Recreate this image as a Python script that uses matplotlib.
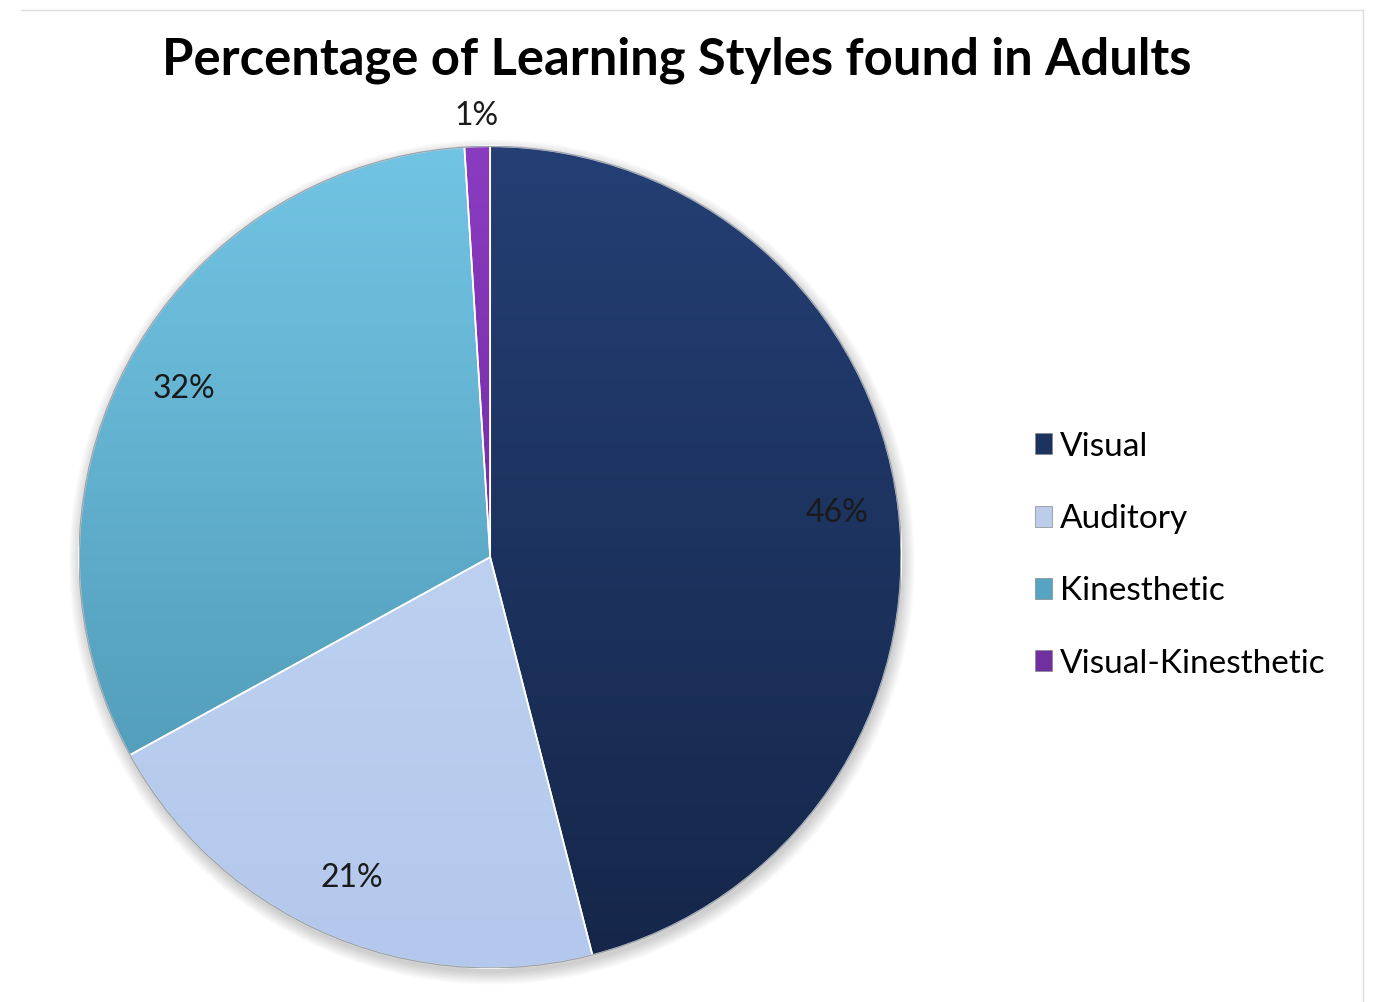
import numpy as np
import matplotlib.pyplot as plt
from matplotlib.colors import LinearSegmentedColormap
from matplotlib.patches import Circle

# Learning style shares (percent)
styles = ['Visual', 'Auditory', 'Kinesthetic', 'Visual-Kinesthetic']
shares = [46, 21, 32, 1]

# top / bottom shade of each slice
top_colors = ['#243f74', '#c6d8f4', '#72c4e4', '#8a3cc0']
bottom_colors = ['#152649', '#b3c8ec', '#4892ad', '#5e1f8c']
legend_colors = ['#1c325f', '#bccde9', '#55a4c2', '#7030a0']

fig = plt.figure(figsize=(13.75, 10.02), dpi=100)
fig.patch.set_facecolor('white')

ax = fig.add_axes([0.0575, 0.034, 0.598, 0.820])

# soft shadow under the pie
for k in range(8):
    ax.add_patch(Circle((0.004, -0.012), 1.0 + 0.004 * k, color='black',
                        alpha=0.025, lw=0, zorder=0, clip_on=False))

wedges, _ = ax.pie(shares, startangle=90, counterclock=False, radius=1,
                   colors=legend_colors,
                   wedgeprops=dict(edgecolor='white', linewidth=1.2))
ax.set_xlim(-1, 1)
ax.set_ylim(-1, 1)
ax.set_aspect('equal')
ax.axis('off')

# vertical gradient fill clipped to each slice
yy = np.linspace(0, 1, 256).reshape(-1, 1)
for w, c_top, c_bot in zip(wedges, top_colors, bottom_colors):
    cmap = LinearSegmentedColormap.from_list('g', [c_bot, c_top])
    im = ax.imshow(yy, cmap=cmap, extent=(-1, 1, -1, 1), origin='lower',
                   aspect='auto', zorder=1.5, interpolation='bicubic')
    im.set_clip_path(w)
    w.set_zorder(2)
    w.set_facecolor('none')
ax.set_xlim(-1, 1)
ax.set_ylim(-1, 1)

ax.add_patch(Circle((0, 0), 1.0, fill=False, edgecolor='#3d4a5c',
                    lw=1.0, alpha=0.5, zorder=3))

# percentage labels placed along each slice's mid angle
total = sum(shares)
start = 90.0
for s, w in zip(shares, wedges):
    mid = start - s / total * 360 / 2
    start -= s / total * 360
    r = 1.075 if s < 3 else 0.85
    a = np.deg2rad(mid)
    ax.text(r * np.cos(a), r * np.sin(a), f'{s}%', ha='center', va='center',
            fontsize=23, family='Lato', color='#1a1a1a', zorder=5,
            clip_on=False)

fig.text(0.492, 0.940, 'Percentage of Learning Styles found in Adults',
         ha='center', va='center', fontsize=36.5, fontweight='bold',
         family='Lato', color='black')

# legend
handles = [plt.Rectangle((0, 0), 1, 1, facecolor=c, edgecolor='#888888', lw=0.5)
           for c in legend_colors]
fig.legend(handles, styles, loc='center left', bbox_to_anchor=(0.731, 0.446),
           frameon=False, prop=dict(family='Lato', size=24),
           handlelength=0.5, handleheight=0.6, handletextpad=0.25,
           labelspacing=1.27)

# thin border around the chart area
fig.add_artist(plt.Line2D([0.015, 0.991], [0.99, 0.99], color='#dddddd', lw=1))
fig.add_artist(plt.Line2D([0.991, 0.991], [0.0, 0.99], color='#dddddd', lw=1))

plt.savefig('out.png', dpi=100)
